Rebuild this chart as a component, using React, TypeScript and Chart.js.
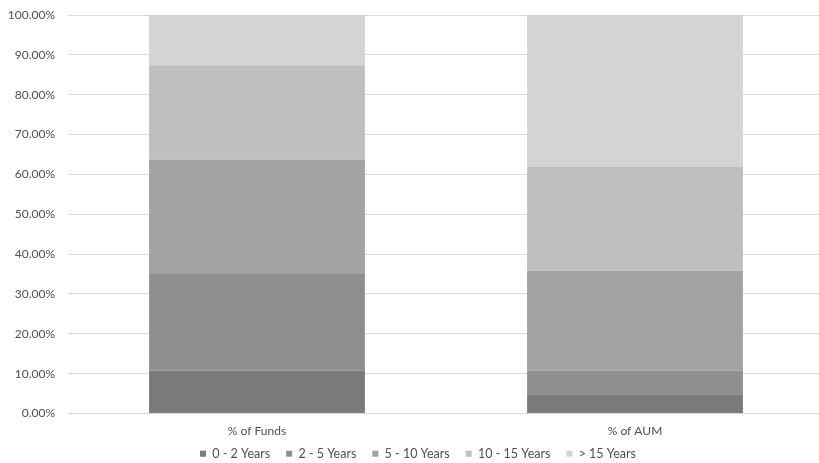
import React, { useEffect, useRef } from "react";
import { Chart, registerables } from "chart.js";

Chart.register(...registerables);

const categories = ["% of Funds", "% of AUM"];
const seriesNames = ["0 - 2 Years", "2 - 5 Years", "5 - 10 Years", "10 - 15 Years", "> 15 Years"];
const years0to2 = [10.7, 4.8];
const years2to5 = [24.3, 5.9];
const years5to10 = [28.7, 25.1];
const years10to15 = [23.7, 26.2];
const yearsOver15 = [12.6, 38.0];
const seriesColors = ["#7a7a7a", "#8f8f8f", "#a3a3a3", "#bfbfbf", "#d4d4d4"];

const FONT = "Lato, 'Open Sans', sans-serif";
const TEXT = "#505050";

export default function App() {
  const canvasRef = useRef<HTMLCanvasElement | null>(null);

  useEffect(() => {
    const canvas = canvasRef.current;
    if (!canvas) return;
    const values = [years0to2, years2to5, years5to10, years10to15, yearsOver15];
    const chart = new Chart(canvas, {
      type: "bar",
      data: {
        labels: categories,
        datasets: values.map((v, i) => ({
          label: seriesNames[i],
          data: v,
          backgroundColor: seriesColors[i],
          borderWidth: 0,
          categoryPercentage: 1,
          barPercentage: 0.571,
        })),
      },
      options: {
        responsive: false,
        animation: false,
        layout: { padding: { top: 15, right: 2, left: 12, bottom: 0 } },
        plugins: {
          tooltip: { enabled: false },
          legend: {
            position: "bottom",
            labels: {
              boxWidth: 6,
              boxHeight: 6,
              padding: 16,
              color: TEXT,
              font: { family: FONT, size: 12.5 },
            },
          },
        },
        scales: {
          x: {
            stacked: true,
            grid: { display: false, drawTicks: false },
            border: { display: false },
            afterFit: (s: any) => {
              // keep the axis short and let its labels sit in the legend's top padding
              s.height = 18;
              s._computeLabelArea = () => undefined;
            },
            ticks: { color: TEXT, font: { family: FONT, size: 12 }, padding: 10 },
          },
          y: {
            stacked: true,
            min: 0,
            max: 100,
            grid: { color: "#d9d9d9", lineWidth: 1, drawTicks: false },
            border: { display: false },
            afterFit: (s: any) => {
              s.width = 56;
              s.paddingTop = 0;
              s._computeLabelArea = () => undefined;
            },
            ticks: {
              stepSize: 10,
              padding: 13,
              color: TEXT,
              font: { family: FONT, size: 12 },
              callback: (v: any) => Number(v).toFixed(2) + "%",
            },
          },
        },
      },
    });
    return () => chart.destroy();
  }, []);

  return (
    <div style={{ position: "fixed", left: 0, top: 0, width: 819, height: 463, overflow: "hidden", background: "#fff" }}>
      <canvas ref={canvasRef} width={826} height={470} style={{ display: "block" }} />
    </div>
  );
}
